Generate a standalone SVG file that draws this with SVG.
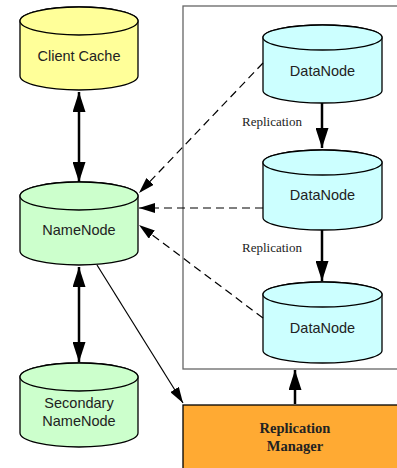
<svg xmlns="http://www.w3.org/2000/svg" width="397" height="468" viewBox="0 0 397 468">
<style>
.cyl{stroke:#000;stroke-width:1.3}
.cc{fill:#FFFF99}
.nn{fill:#CCFFCC}
.dn{fill:#CCFFFF}
.lbl{font-family:"Liberation Sans",Arial,sans-serif;font-size:14.5px;fill:#222;text-anchor:middle}
.rep{font-family:"Liberation Serif","Times New Roman",serif;font-size:13px;fill:#222}
.rm{font-family:"Liberation Serif","Times New Roman",serif;font-size:14.5px;font-weight:bold;fill:#222;text-anchor:middle}
.thick{stroke:#000;stroke-width:2.5;fill:none}
.thin{stroke:#000;stroke-width:1.2;fill:none}
.dash{stroke:#000;stroke-width:1.2;fill:none;stroke-dasharray:8 5}
</style>
<defs>
<marker id="big" viewBox="0 0 20 13" refX="20" refY="6.5" markerWidth="20" markerHeight="13" markerUnits="userSpaceOnUse" orient="auto-start-reverse"><path d="M0,0 L20,6.5 L0,13 Z" fill="#000"/></marker>
<marker id="small" viewBox="0 0 16 10" refX="16" refY="5" markerWidth="16" markerHeight="10" markerUnits="userSpaceOnUse" orient="auto"><path d="M0,0 L16,5 L0,10 Z" fill="#000"/></marker>
</defs>
<rect id="cluster" x="183" y="6" width="240" height="363" fill="#fff" stroke="#666" stroke-width="1.3"/>
<g id="client-cache">
<path class="cyl cc" d="M20,21 L20,76 A59,14 0 0 0 138,76 L138,21 A59,14 0 0 0 20,21 Z"/>
<ellipse class="cyl cc" cx="79" cy="21" rx="59" ry="14"/>
<text class="lbl" x="79" y="61">Client Cache</text>
</g>
<g id="namenode">
<path class="cyl nn" d="M20,196 L20,251 A59,14 0 0 0 138,251 L138,196 A59,14 0 0 0 20,196 Z"/>
<ellipse class="cyl nn" cx="79" cy="196" rx="59" ry="14"/>
<text class="lbl" x="79" y="235">NameNode</text>
</g>
<g id="secondary-namenode">
<path class="cyl nn" d="M20,377 L20,433 A59,14 0 0 0 138,433 L138,377 A59,14 0 0 0 20,377 Z"/>
<ellipse class="cyl nn" cx="79" cy="377" rx="59" ry="14"/>
<text class="lbl" x="79" y="408">Secondary</text>
<text class="lbl" x="79" y="426">NameNode</text>
</g>
<g id="datanode-1">
<path class="cyl dn" d="M263,37.5 L263,90.5 A59.5,12.5 0 0 0 382,90.5 L382,37.5 A59.5,12.5 0 0 0 263,37.5 Z"/>
<ellipse class="cyl dn" cx="322.5" cy="37.5" rx="59.5" ry="12.5"/>
<text class="lbl" x="322.5" y="76">DataNode</text>
</g>
<g id="datanode-2">
<path class="cyl dn" d="M263,162.5 L263,217.5 A59.5,12.5 0 0 0 382,217.5 L382,162.5 A59.5,12.5 0 0 0 263,162.5 Z"/>
<ellipse class="cyl dn" cx="322.5" cy="162.5" rx="59.5" ry="12.5"/>
<text class="lbl" x="322.5" y="200">DataNode</text>
</g>
<g id="datanode-3">
<path class="cyl dn" d="M263,294.5 L263,350.5 A59.5,12.5 0 0 0 382,350.5 L382,294.5 A59.5,12.5 0 0 0 263,294.5 Z"/>
<ellipse class="cyl dn" cx="322.5" cy="294.5" rx="59.5" ry="12.5"/>
<text class="lbl" x="322.5" y="333">DataNode</text>
</g>
<g id="replication-manager">
<rect x="183" y="405" width="230" height="80" fill="#FFAA33" stroke="#000" stroke-width="1.3"/>
<text class="rm" x="295" y="433">Replication</text>
<text class="rm" x="295" y="451">Manager</text>
</g>
<g id="connectors">
<line class="thick" x1="79" y1="92" x2="79" y2="182" marker-start="url(#big)" marker-end="url(#big)"/>
<line class="thick" x1="79" y1="267" x2="79" y2="362" marker-start="url(#big)" marker-end="url(#big)"/>
<line class="thick" x1="322" y1="103" x2="322" y2="148" marker-end="url(#big)"/>
<line class="thick" x1="322" y1="230" x2="322" y2="281" marker-end="url(#big)"/>
<line class="thick" x1="295" y1="404" x2="295" y2="370" marker-end="url(#big)"/>
<line class="dash" x1="263" y1="63" x2="139" y2="193" marker-end="url(#small)"/>
<line class="dash" x1="263" y1="208" x2="139" y2="208" marker-end="url(#small)"/>
<line class="dash" x1="263" y1="318" x2="139" y2="225" marker-end="url(#small)"/>
<line class="thin" x1="97" y1="265" x2="183" y2="403" marker-end="url(#small)"/>
<text class="rep" x="242" y="126">Replication</text>
<text class="rep" x="242" y="252">Replication</text>
</g>
</svg>
